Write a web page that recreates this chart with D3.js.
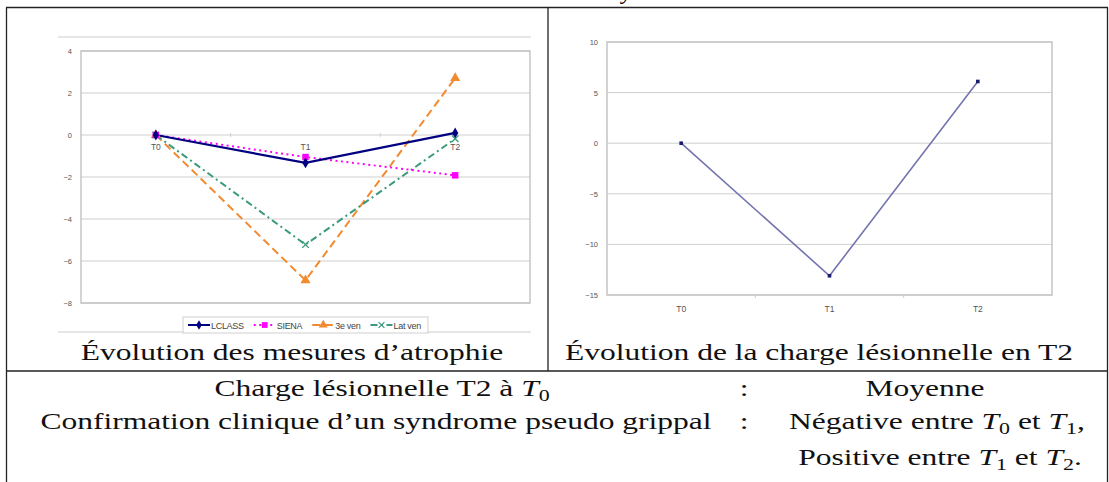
<!DOCTYPE html>
<html><head><meta charset="utf-8">
<script src="https://cdn.jsdelivr.net/npm/d3@7"></script>
<style>html,body{margin:0;padding:0;background:#fff;}svg{display:block;}</style>
</head><body>
<svg id="c" width="1109" height="482"></svg>
<script>
// ---------- data ----------
const categories = ["T0", "T1", "T2"];
const seriesNames = ["LCLASS", "SIENA", "3e ven", "Lat ven"];
const lclass = [0, -1.33, 0.1];
const siena = [0, -1.05, -1.92];
const ven3 = [0, -6.92, 2.71];
const latVen = [0, -5.22, -0.18];
const atrophyTicks = [-8, -6, -4, -2, 0, 2, 4];
const lesionLoad = [0, -13.1, 6.1];
const lesionTicks = [-15, -10, -5, 0, 5, 10];
const captionLeft = "Évolution des mesures d’atrophie";
const captionRight = "Évolution de la charge lésionnelle en T2";

const svg = d3.select("#c");
const chartFont = "Liberation Sans, Arial, Helvetica, sans-serif";
const texFont = "Liberation Serif, Times New Roman, serif";

// ---------- table frame ----------
const frame = svg.append("g").attr("stroke", "#222").attr("stroke-width", 1.3);
frame.append("line").attr("x1", 6).attr("x2", 1108).attr("y1", 7.5).attr("y2", 7.5);
frame.append("line").attr("x1", 6).attr("x2", 1108).attr("y1", 371).attr("y2", 371);
frame.append("line").attr("x1", 6.5).attr("x2", 6.5).attr("y1", 7.5).attr("y2", 482);
frame.append("line").attr("x1", 1107.5).attr("x2", 1107.5).attr("y1", 7.5).attr("y2", 482);
frame.append("line").attr("x1", 548).attr("x2", 548).attr("y1", 7.5).attr("y2", 371);
// descender of the line above, cut by the top of the picture
svg.append("text").attr("x", 622).attr("y", -1).attr("style", `font-family:${texFont}`)
  .attr("font-style", "italic").attr("font-size", 23).text("y");

// ---------- left chart: atrophy ----------
const colors = ["#000080", "#ff00ff", "#f28a30", "#3a9a7e"];
const dashes = [null, "2,3.5", "8,4.5", "7,3.5,2,3.5"];
const symbols = [d3.symbolDiamond, d3.symbolSquare, d3.symbolTriangle, d3.symbolX];
const symSize = [34, 42, 44, 30];
const allSeries = [lclass, siena, ven3, latVen];

const L = {x0: 81, x1: 530, y0: 51, y1: 303};
const xL = d3.scaleBand().domain(categories).range([L.x0, L.x1]);
const yL = d3.scaleLinear().domain([-8, 4]).range([L.y1, L.y0]);
const gL = svg.append("g");
gL.append("line").attr("x1", 58).attr("x2", 531).attr("y1", 37).attr("y2", 37).attr("stroke", "#dedede").attr("stroke-width", 1.5);
gL.append("line").attr("x1", 58).attr("x2", 531).attr("y1", 332).attr("y2", 332).attr("stroke", "#dedede").attr("stroke-width", 1.5);
gL.append("g").selectAll("line").data(atrophyTicks).join("line")
  .attr("x1", L.x0).attr("x2", L.x1).attr("y1", d => yL(d)).attr("y2", d => yL(d))
  .attr("stroke", "#cfcfcf").attr("stroke-width", 1);
gL.append("rect").attr("x", L.x0).attr("y", L.y0).attr("width", L.x1 - L.x0).attr("height", L.y1 - L.y0)
  .attr("fill", "none").attr("stroke", "#bdbdbd").attr("stroke-width", 1.3);
const axL = gL.append("g").attr("transform", `translate(${L.x0 - 9},0)`)
  .call(d3.axisLeft(yL).tickValues(atrophyTicks).tickSize(0).tickPadding(0).tickFormat(d3.format("d")));
axL.select(".domain").remove();
axL.selectAll("text").attr("font-family", chartFont).attr("font-size", 7.5).attr("fill", "#555");
const axC = gL.append("g").attr("transform", `translate(0,${yL(0)})`)
  .call(d3.axisBottom(xL).tickSize(0).tickPadding(9));
axC.select(".domain").remove();
axC.selectAll("text").attr("font-family", chartFont).attr("font-size", 8.5).attr("fill", "#555");
gL.append("g").selectAll("line").data(categories.slice(1)).join("line")
  .attr("x1", d => xL(d)).attr("x2", d => xL(d)).attr("y1", yL(0) - 2).attr("y2", yL(0) + 2)
  .attr("stroke", "#cfcfcf");
const lineL = d3.line().x((d, i) => xL(categories[i]) + xL.bandwidth() / 2).y(d => yL(d));
const drawOrder = [2, 3, 1, 0];
drawOrder.forEach(s => {
  gL.append("path").attr("d", lineL(allSeries[s])).attr("fill", "none")
    .attr("stroke", colors[s]).attr("stroke-width", s === 0 ? 2.2 : 2)
    .attr("stroke-dasharray", dashes[s]);
});
drawOrder.forEach(s => {
  gL.append("g").selectAll("path").data(allSeries[s]).join("path")
    .attr("transform", (d, i) => `translate(${xL(categories[i]) + xL.bandwidth() / 2},${yL(d)})`)
    .attr("d", d3.symbol(symbols[s], symSize[s]))
    .attr("fill", s === 3 ? "none" : colors[s])
    .attr("stroke", s === 3 ? colors[s] : "none").attr("stroke-width", 1.3);
});
// legend
const leg = gL.append("g");
const legBox = leg.append("rect").attr("y", 317).attr("height", 16).attr("fill", "#fff").attr("stroke", "#d0d0d0");
let lx = 188;
seriesNames.forEach((name, s) => {
  leg.append("line").attr("x1", lx).attr("x2", lx + 22).attr("y1", 325).attr("y2", 325)
    .attr("stroke", colors[s]).attr("stroke-width", 2).attr("stroke-dasharray", dashes[s]);
  leg.append("path").attr("transform", `translate(${lx + 11},325)`)
    .attr("d", d3.symbol(symbols[s], symSize[s] * 0.8))
    .attr("fill", s === 3 ? "none" : colors[s]).attr("stroke", s === 3 ? colors[s] : "none").attr("stroke-width", 1.2);
  const t = leg.append("text").attr("x", lx + 23).attr("y", 328.5).attr("font-family", chartFont)
    .attr("font-size", 9).attr("fill", "#444").attr("letter-spacing", -0.3).text(name);
  lx += 23 + t.node().getComputedTextLength() + 10;
});
legBox.attr("x", 183).attr("width", lx - 183 - 3);

// ---------- right chart: lesion load ----------
const R = {x0: 607, x1: 1052, y0: 42, y1: 295};
const xR = d3.scaleBand().domain(categories).range([R.x0, R.x1]);
const yR = d3.scaleLinear().domain([-15, 10]).range([R.y1, R.y0]);
const gR = svg.append("g");
gR.append("g").selectAll("line").data(lesionTicks).join("line")
  .attr("x1", R.x0).attr("x2", R.x1).attr("y1", d => yR(d)).attr("y2", d => yR(d))
  .attr("stroke", "#cfcfcf");
gR.append("rect").attr("x", R.x0).attr("y", R.y0).attr("width", R.x1 - R.x0).attr("height", R.y1 - R.y0)
  .attr("fill", "none").attr("stroke", "#c8c8c8").attr("stroke-width", 1.6);
const axR = gR.append("g").attr("transform", `translate(${R.x0 - 9},0)`)
  .call(d3.axisLeft(yR).tickValues(lesionTicks).tickSize(0).tickPadding(0).tickFormat(d3.format("d")));
axR.select(".domain").remove();
axR.selectAll("text").attr("font-family", chartFont).attr("font-size", 7.5).attr("fill", "#555");
const axRB = gR.append("g").attr("transform", `translate(0,${R.y1})`)
  .call(d3.axisBottom(xR).tickSize(0).tickPadding(11));
axRB.select(".domain").remove();
axRB.selectAll("text").attr("font-family", chartFont).attr("font-size", 8.5).attr("fill", "#555");
gR.append("g").selectAll("line").data(categories.slice(1)).join("line")
  .attr("x1", d => xR(d)).attr("x2", d => xR(d)).attr("y1", R.y1).attr("y2", R.y1 + 3)
  .attr("stroke", "#d0d0d0");
const lineR = d3.line().x((d, i) => xR(categories[i]) + xR.bandwidth() / 2).y(d => yR(d));
gR.append("path").attr("d", lineR(lesionLoad)).attr("fill", "none")
  .attr("stroke", "#7474b0").attr("stroke-width", 1.6);
gR.append("g").selectAll("rect").data(lesionLoad).join("rect")
  .attr("x", (d, i) => xR(categories[i]) + xR.bandwidth() / 2 - 1.8).attr("y", d => yR(d) - 1.8)
  .attr("width", 3.6).attr("height", 3.6).attr("fill", "#1a1a6e");

// ---------- LaTeX-like text ----------
const tg = svg.append("g").attr("style", `font-family:${texFont}`).attr("font-size", 23).attr("fill", "#111");
const texts = [];
function tex(cx, y, parts) {
  const t = tg.append("text").attr("text-anchor", "middle");
  parts.forEach(p => {
    if (typeof p === "string") t.append("tspan").text(p);
    else {
      t.append("tspan").attr("font-style", "italic").text(p.v);
      t.append("tspan").attr("font-size", 16).attr("dy", 5).text(p.sub);
      if (p.after) t.append("tspan").attr("dy", -5).text(p.after);
    }
  });
  texts.push({t, cx, y});
  return t;
}
const ref = tex(819, 360, [captionRight]);
tex(292, 360, [captionLeft]);
tex(382, 396, ["Charge lésionnelle T2 à ", {v: "T", sub: "0"}]);
tex(744, 396, [":"]);
tex(925, 396, ["Moyenne"]);
tex(376, 429, ["Confirmation clinique d’un syndrome pseudo grippal"]);
tex(744, 429, [":"]);
tex(937, 429, ["Négative entre ", {v: "T", sub: "0", after: " et "}, {v: "T", sub: "1", after: ","}]);
tex(940, 465, ["Positive entre ", {v: "T", sub: "1", after: " et "}, {v: "T", sub: "2", after: "."}]);
const k = 508 / ref.node().getComputedTextLength();
texts.forEach(o => o.t.attr("transform", `translate(${o.cx},${o.y}) scale(${k},1)`));
</script>
</body></html>
